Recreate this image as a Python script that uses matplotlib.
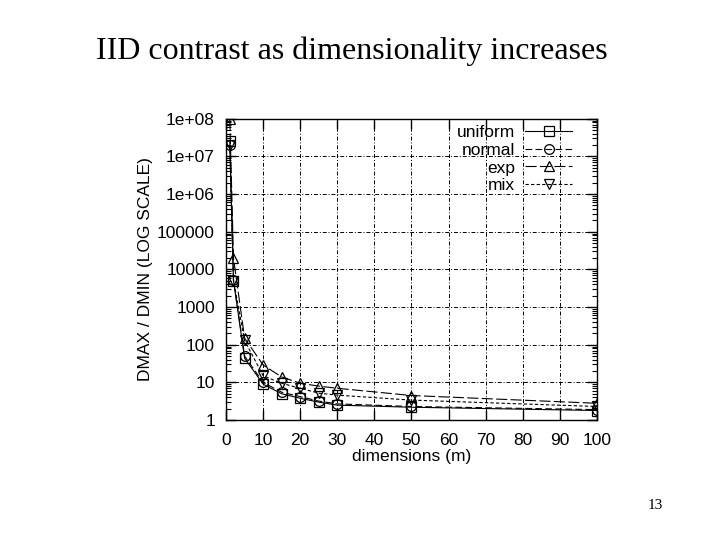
import matplotlib
matplotlib.use("Agg")
import matplotlib.pyplot as plt
from matplotlib.ticker import LogLocator, FixedLocator, FuncFormatter

# dimensions (m)
dims = [1, 2, 5, 10, 15, 20, 25, 30, 50, 100]

# DMAX / DMIN
uniform = [2.5e7, 5000, 44, 9, 5, 3.8, 3.0, 2.5, 2.2, 1.8]
normal = [2.0e7, 5200, 50, 10, 5.5, 4.2, 3.2, 2.7, 2.3, 1.9]
exp = [1.0e8, 20000, 150, 29, 14, 9.5, 8, 7, 4.5, 2.8]
mix = [2.0e7, 5000, 130, 15, 9.5, 7, 5.2, 4.6, 3.4, 2.3]

ytick_vals = [1, 10, 100, 1000, 10000, 100000, 1e6, 1e7, 1e8]
ytick_labels = ["1", "10", "100", "1000", "10000", "100000",
                "1e+06", "1e+07", "1e+08"]
xtick_vals = [0, 10, 20, 30, 40, 50, 60, 70, 80, 90, 100]

fig = plt.figure(figsize=(7.2, 5.4), dpi=100)
ax = fig.add_axes([0.314, 0.222, 0.515, 0.558])

sans = "Liberation Sans"
ax.plot(dims, uniform, color="black", lw=0.8, ls="-", marker="s", ms=7,
        mfc="none", mec="black", mew=0.9, label="uniform")
ax.plot(dims, normal, color="black", lw=0.8, ls=(0, (6, 3)), marker="o", ms=7,
        mfc="none", mec="black", mew=0.9, label="normal")
ax.plot(dims, exp, color="black", lw=0.8, ls=(0, (10, 3)), marker="^", ms=7,
        mfc="none", mec="black", mew=0.9, label="exp")
ax.plot(dims, mix, color="black", lw=0.8, ls=(0, (3, 2)), marker="v", ms=7,
        mfc="none", mec="black", mew=0.9, label="mix")

ax.set_yscale("log")
ax.set_xlim(0, 100)
ax.set_ylim(1, 1e8)
ax.yaxis.set_major_locator(FixedLocator(ytick_vals))
ax.yaxis.set_major_formatter(FuncFormatter(
    lambda v, p: ytick_labels[ytick_vals.index(v)] if v in ytick_vals else ""))
ax.yaxis.set_minor_locator(LogLocator(base=10, subs=range(2, 10), numticks=20))
ax.xaxis.set_major_locator(FixedLocator(xtick_vals))

ax.tick_params(which="both", direction="in", top=True, right=True,
               labelsize=12.5)
ax.tick_params(axis="y", pad=8)
ax.tick_params(axis="x", pad=9)
ax.tick_params(which="major", length=7, width=1)
ax.tick_params(which="minor", length=3.5, width=0.8)
for lab in ax.get_xticklabels() + ax.get_yticklabels():
    lab.set_family(sans)

ax.grid(True, which="major", color="black", ls=(0, (4, 2, 1, 2)), lw=0.7)
for s in ax.spines.values():
    s.set_linewidth(1)

ax.set_xlabel("dimensions (m)", fontsize=12.5, family=sans, labelpad=1)
ax.set_ylabel("DMAX / DMIN (LOG SCALE)", fontsize=12.5, family=sans,
              labelpad=3)

leg = ax.legend(loc="upper right", bbox_to_anchor=(0.95, 1.0), frameon=False,
                markerfirst=False, prop={"family": sans, "size": 12.5},
                handlelength=2.7, borderaxespad=0.15, labelspacing=0.15,
                handletextpad=0.6, borderpad=0.2)
for t in leg.get_texts():
    t.set_ha("right")

fig.text(0.489, 0.905, "IID contrast as dimensionality increases",
         ha="center", va="center", family="Liberation Serif", fontsize=23)
fig.text(0.91, 0.064, "13", ha="center", va="center",
         family="Liberation Serif", fontsize=11)

fig.savefig("out.png", dpi=100)
